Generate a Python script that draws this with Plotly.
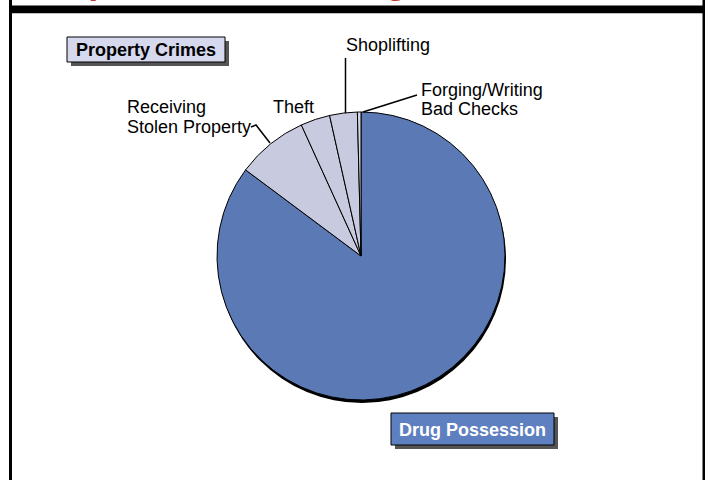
import plotly.graph_objects as go

W, H = 705, 480

# Offense categories, percent of cases
categories = ["Drug Possession", "Receiving Stolen Property", "Theft", "Shoplifting", "Forging/Writing Bad Checks"]
shares = [85.2, 8.0, 3.3, 3.1, 0.4]
slice_colors = ["#5A79B5", "#C8CADF", "#C8CADF", "#C8CADF", "#D4D6E6"]


def px(x):
    return x / W


def py(y):
    return 1 - y / H


# pie geometry in pixels
cx, cy, r = 361, 256, 144


def domain(dx=0, dy=0):
    return dict(x=[px(cx - r + dx), px(cx + r + dx)],
                y=[py(cy + r + dy), py(cy - r + dy)])


fig = go.Figure()

# drop shadow under the pie
fig.add_trace(go.Pie(
    values=[1], labels=["shadow"], domain=domain(1, 3),
    marker=dict(colors=["#000000"], line=dict(width=0)),
    textinfo="none", hoverinfo="skip", sort=False, showlegend=False,
))

fig.add_trace(go.Pie(
    values=shares, labels=categories, domain=domain(),
    marker=dict(colors=slice_colors, line=dict(color="#000000", width=1)),
    textinfo="none", sort=False, direction="clockwise", rotation=0,
    showlegend=False,
))

shapes = []


def rect(x0, y0, x1, y1, fill, line_color=None, lw=0):
    shapes.append(dict(type="rect", xref="paper", yref="paper",
                       x0=px(x0), x1=px(x1), y0=py(y1), y1=py(y0),
                       fillcolor=fill, layer="above",
                       line=dict(color=line_color or fill, width=lw)))


def seg(points, lw=1.5):
    path = "M " + " L ".join(f"{px(x)},{py(y)}" for x, y in points)
    shapes.append(dict(type="path", xref="paper", yref="paper", path=path,
                       line=dict(color="#000000", width=lw), layer="above"))


# slide frame
rect(9, 0, 12, H, "#000000")
rect(702.5, 0, W, H, "#000000")
rect(9, 5.5, W, 13.3, "#000000")

# label boxes with shadows
rect(71, 41, 229, 66, "#555555")
rect(67, 37, 225, 62, "#D6D8EE", "#000000", 1)
rect(395, 417, 558, 449, "#555555")
rect(391, 413, 554, 445, "#5F80C0", "#000000", 1)

# leader lines
seg([(345.5, 58), (345.5, 113)])
seg([(363, 112), (417, 95)])
seg([(251, 127), (256, 125), (270, 143)])

annotations = []


def label(text, x, y, xanchor="left", color="#000000", bold=False, size=18):
    annotations.append(dict(
        text=f"<b>{text}</b>" if bold else text, x=px(x), y=py(y),
        xref="paper", yref="paper", xanchor=xanchor, yanchor="middle",
        showarrow=False, align="left",
        font=dict(family="Liberation Sans, Arial, sans-serif", size=size, color=color)))


label("Top Offenses Among Arrestees", 45, -19.5, color="#C0392B", bold=True, size=36)
label("Property Crimes", 146, 50, xanchor="center", bold=True)
label("Drug Possession", 472.5, 429.5, xanchor="center", color="#FFFFFF", bold=True)
label("Shoplifting", 344, 45)
label("Forging/Writing", 419, 90.5)
label("Bad Checks", 419, 108.5)
label("Theft", 271, 107)
label("Receiving", 125, 107)
label("Stolen Property", 125, 127)

fig.update_layout(
    width=W, height=H, margin=dict(l=0, r=0, t=0, b=0),
    paper_bgcolor="#FFFFFF", plot_bgcolor="#FFFFFF",
    shapes=shapes, annotations=annotations,
)

fig.write_html("out.html")
